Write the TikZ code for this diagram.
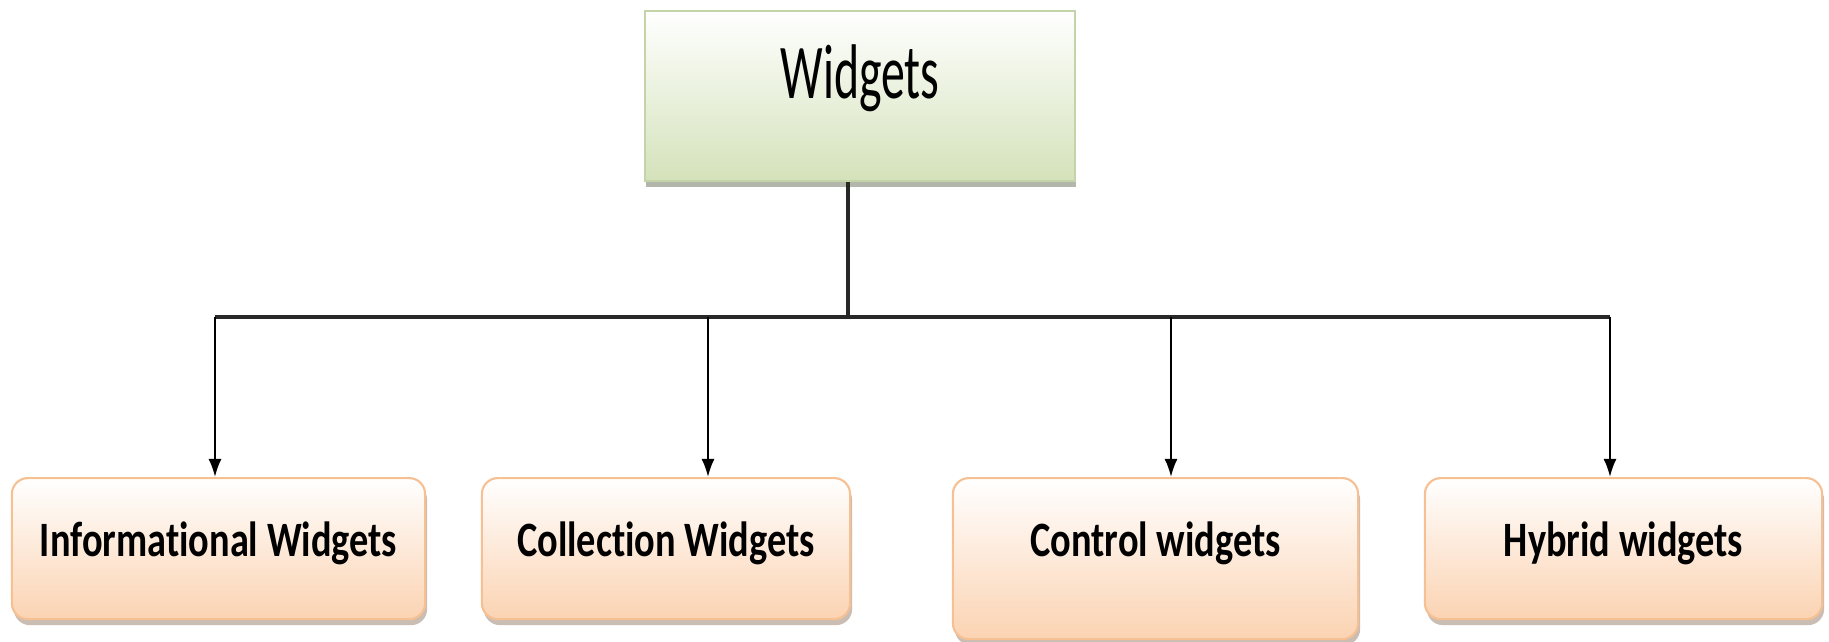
\documentclass[tikz,border=0pt]{standalone}
\usepackage{fontspec}
\setmainfont{Carlito}[Ligatures=NoCommon]
\usepackage{graphicx}
\usetikzlibrary{arrows.meta,shadows}
\definecolor{grnfill}{RGB}{212,226,186}
\definecolor{grnedge}{RGB}{196,212,168}
\definecolor{pchfill}{RGB}{251,211,178}
\definecolor{pchedge}{RGB}{246,192,146}
\definecolor{lnclr}{RGB}{40,40,40}
\newcommand{\vstretch}[2]{\scalebox{1}[#1]{#2}}
\tikzset{
  topbox/.style={draw=grnedge, line width=0.6pt, top color=white, bottom color=grnfill,
    inner sep=0pt, anchor=north, text height=0.87cm, text depth=0.83cm,
    minimum width=4.30cm,
    drop shadow={shadow xshift=0.01cm, shadow yshift=-0.06cm, opacity=0.55, fill=black!45!grnfill},
    font=\fontsize{13.6}{16}\selectfont},
  leafbox/.style={draw=pchedge, line width=0.6pt, top color=white, bottom color=pchfill,
    rounded corners=0.16cm, inner sep=0pt, anchor=north, text height=0.78cm,
    drop shadow={shadow xshift=0.02cm, shadow yshift=-0.06cm, opacity=0.5, fill=black!40!pchfill},
    font=\bfseries\fontsize{10.9}{13}\selectfont},
  trunk/.style={draw=lnclr, line width=1.1pt},
  branch/.style={draw=black, line width=0.6pt, -{Latex[length=0.18cm, width=0.13cm]}}
}
\begin{document}
\begin{tikzpicture}[x=0.01cm, y=-0.01cm]
\useasboundingbox[fill=white] (0,0) rectangle (1829,642);
% top node
\node[topbox] (top) at (860,10) {\vstretch{1.62}{Widgets}};
% leaves
\node[leafbox, minimum width=4.13cm, text depth=0.63cm] (info) at (218.5,477) {\vstretch{1.29}{Informational Widgets}};
\node[leafbox, minimum width=3.68cm, text depth=0.63cm] (coll) at (666,477) {\vstretch{1.29}{Collection Widgets}};
\node[leafbox, minimum width=4.05cm, text depth=0.83cm] (ctrl) at (1155.5,477) {\vstretch{1.29}{Control widgets}};
\node[leafbox, minimum width=3.97cm, text depth=0.63cm] (hyb) at (1623.5,477) {\vstretch{1.29}{Hybrid widgets}};
% connectors
\coordinate (c0) at (848,317);
\coordinate (h1) at (215,317);
\coordinate (h2) at (708,317);
\coordinate (h3) at (1171,317);
\coordinate (h4) at (1610,317);
\draw[trunk] (c0 |- top.south) -- (c0);
\draw[trunk] (h1) -- (h4);
\draw[branch] (h1) -- (h1 |- info.north);
\draw[branch] (h2) -- (h2 |- coll.north);
\draw[branch] (h3) -- (h3 |- ctrl.north);
\draw[branch] (h4) -- (h4 |- hyb.north);
\end{tikzpicture}
\end{document}
